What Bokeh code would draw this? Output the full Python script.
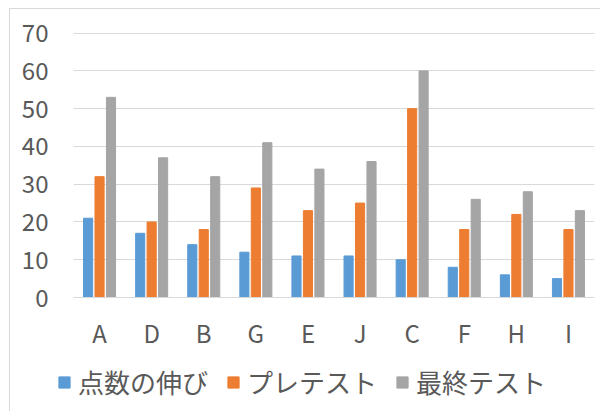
from bokeh.plotting import figure
from bokeh.models import ColumnDataSource, Legend, LegendItem, FactorRange
from bokeh.layouts import column
from bokeh.transform import dodge
from bokeh.embed import file_html
from bokeh.resources import INLINE

categories = ["A", "D", "B", "G", "E", "J", "C", "F", "H", "I"]
gain = [21, 17, 14, 12, 11, 11, 10, 8, 6, 5]
pretest = [32, 20, 18, 29, 23, 25, 50, 18, 22, 18]
final = [53, 37, 32, 41, 34, 36, 60, 26, 28, 23]
series_names = ["点数の伸び", "プレテスト", "最終テスト"]
colors = ["#5B9BD5", "#ED7D31", "#A5A5A5"]
y_ticks = [0, 10, 20, 30, 40, 50, 60, 70]

source = ColumnDataSource(dict(cat=categories, gain=gain, pretest=pretest, final=final))

FONT = "Noto Sans CJK JP"
TEXT = "#595959"

p = figure(x_range=FactorRange(*categories), y_range=(0, 70.7),
           width=590, height=351, output_backend="svg", toolbar_location=None,
           min_border_left=63, min_border_right=6, min_border_top=21, min_border_bottom=63)
p.outline_line_color = None
p.background_fill_color = "white"
p.border_fill_color = "white"
p.frame_align = False

p.vbar(x=dodge("cat", -0.22, range=p.x_range), top="gain", width=0.175, source=source, color=colors[0])
p.vbar(x=dodge("cat", 0.0, range=p.x_range), top="pretest", width=0.175, source=source, color=colors[1])
p.vbar(x=dodge("cat", 0.22, range=p.x_range), top="final", width=0.175, source=source, color=colors[2])

p.xgrid.grid_line_color = None
p.ygrid.grid_line_color = "#D9D9D9"
p.ygrid.grid_line_width = 1
p.yaxis.ticker = y_ticks

p.yaxis.axis_line_color = None
p.yaxis.major_tick_line_color = None
p.yaxis.minor_tick_line_color = None
p.yaxis.major_label_standoff = 19
p.yaxis.major_label_text_font = FONT
p.yaxis.major_label_text_font_size = "24px"
p.yaxis.major_label_text_color = TEXT

p.xaxis.axis_line_color = "#D9D9D9"
p.xaxis.major_tick_line_color = None
p.xaxis.minor_tick_line_color = None
p.xaxis.major_label_standoff = 11
p.xaxis.major_label_text_font = FONT
p.xaxis.major_label_text_font_size = "24px"
p.xaxis.major_label_text_color = TEXT

# legend strip below the chart
lg = figure(width=590, height=51, output_backend="svg", toolbar_location=None,
            x_axis_type=None, y_axis_type=None, x_range=(0, 1), y_range=(0, 1),
            min_border_left=0, min_border_right=0, min_border_top=0, min_border_bottom=0)
lg.outline_line_color = None
lg.grid.grid_line_color = None
lg.background_fill_color = "white"
lg.border_fill_color = "white"
lg.frame_align = False
nan = float("nan")
dummies = [lg.vbar(x=[nan], top=[nan], width=0.1, color=c) for c in colors]

legend = Legend(items=[LegendItem(label=n, renderers=[r]) for n, r in zip(series_names, dummies)],
                orientation="horizontal", location=(47, 11))
legend.glyph_width = 14
legend.glyph_height = 14
legend.label_standoff = 7
legend.spacing = 18
legend.padding = 0
legend.margin = 0
legend.border_line_color = None
legend.background_fill_alpha = 0
legend.label_text_font = FONT
legend.label_text_font_size = "26px"
legend.label_text_color = TEXT
legend.label_height = 28
lg.add_layout(legend, "center")

layout = column(p, lg, spacing=0)
layout.styles = {"margin-left": "9px", "margin-top": "8px",
                 "border-left": "1px solid #D9D9D9", "border-top": "1px solid #D9D9D9"}

open("out.html", "w").write(file_html(layout, INLINE))
